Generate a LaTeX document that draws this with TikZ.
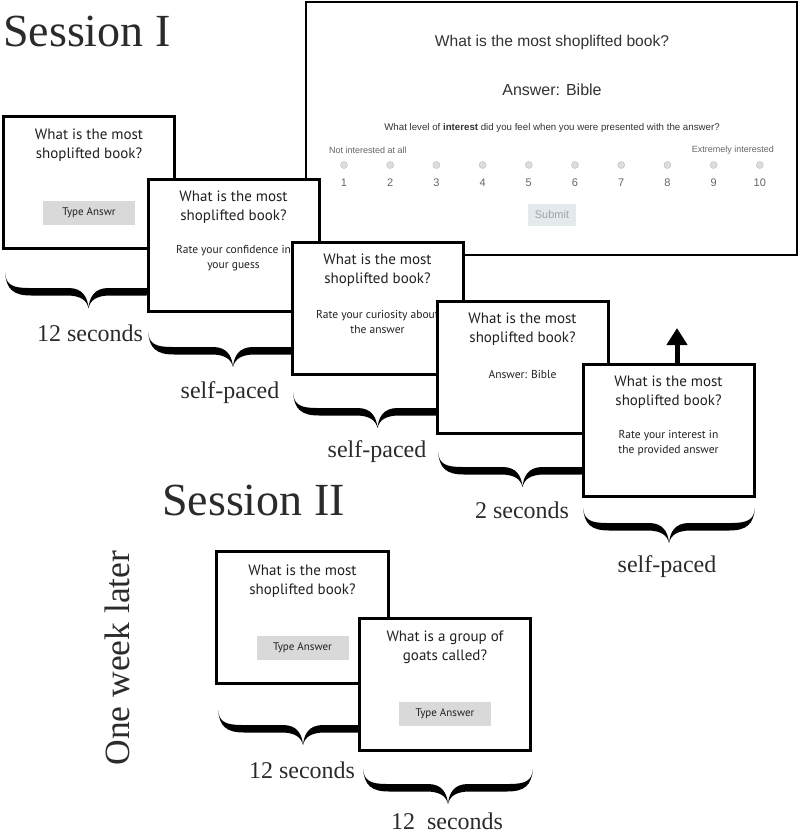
\documentclass[tikz,border=0pt]{standalone}
\usepackage{fontspec}
\setmainfont{Liberation Serif}
\newfontfamily\cardfont{PT Sans}
\newfontfamily\webfont{Liberation Sans}
\usetikzlibrary{arrows.meta,calc}
\definecolor{ink}{HTML}{231F20}
\definecolor{btngray}{HTML}{D9D9D9}
\definecolor{webtxt}{HTML}{333333}
\definecolor{weblight}{HTML}{666666}
\definecolor{radiofill}{HTML}{DDDDDD}
\definecolor{radioline}{HTML}{BBBBBB}
\definecolor{submitbg}{HTML}{E4EAEC}
\definecolor{submittxt}{HTML}{9AA5AA}
\definecolor{labtxt}{HTML}{2B2B2B}
\newcommand\curlybr[3]{%
  \pgfmathsetmacro\bm{(#1+#2)/2}%
  \fill[black] (#1,#3)
    .. controls (#1+1,#3+12) and (#1+8,#3+15) .. (#1+24,#3+15)
    -- (\bm-20,#3+15)
    .. controls (\bm-6,#3+15) and (\bm-1,#3+24) .. (\bm,#3+35)
    .. controls (\bm+1,#3+24) and (\bm+6,#3+15) .. (\bm+20,#3+15)
    -- (#2-24,#3+15)
    .. controls (#2-8,#3+15) and (#2-1,#3+12) .. (#2,#3)
    .. controls (#2-1.5,#3+16) and (#2-8,#3+22.5) .. (#2-26,#3+22.5)
    -- (\bm+22,#3+22.5)
    .. controls (\bm+8,#3+22.5) and (\bm+2,#3+27) .. (\bm,#3+35)
    .. controls (\bm-2,#3+27) and (\bm-8,#3+22.5) .. (\bm-22,#3+22.5)
    -- (#1+26,#3+22.5)
    .. controls (#1+8,#3+22.5) and (#1+1.5,#3+16) .. cycle;}
\begin{document}
\begin{tikzpicture}[x=1pt,y=-1pt,
  card/.style={draw=black, line width=3pt, fill=white, minimum width=171pt, minimum height=132pt, inner sep=0pt},
  qtext/.style={font=\cardfont\fontsize{15}{19}\selectfont, text=ink, align=center, inner sep=0pt},
  subtext/.style={font=\cardfont\fontsize{11.5}{15}\selectfont, text=ink, align=center, inner sep=0pt},
  btn/.style={fill=btngray, minimum width=92pt, minimum height=24pt, inner sep=0pt, font=\cardfont\fontsize{11}{13}\selectfont, text=ink},
  lab/.style={font=\fontsize{24}{28}\selectfont, text=labtxt, inner sep=0pt},
  big/.style={font=\fontsize{46}{50}\selectfont, text=labtxt, inner sep=0pt},
  wt/.style={font=\webfont, text=webtxt, inner sep=0pt},
  radio/.style={circle, fill=radiofill, draw=radioline, line width=0.4pt, minimum size=7pt, inner sep=0pt},
  num/.style={font=\webfont\fontsize{11}{13}\selectfont, text=weblight, inner sep=0pt}]
\useasboundingbox (0,0) rectangle (800,835);
% screenshot of the web question
\node[draw=black, line width=1.5pt, fill=white, minimum width=491pt, minimum height=253pt, inner sep=0pt] (shot) at (551.5,128.5) {};
\node[wt, font=\webfont\fontsize{15.6}{18}\selectfont] (shq) at (552,42) {What is the most shoplifted book?};
\node[wt, font=\webfont\fontsize{16}{19}\selectfont] (sha) at (552,90) {Answer: Bible};
\node[wt, font=\webfont\fontsize{9.7}{11}\selectfont] (shl) at (552,128) {What level of \textbf{interest} did you feel when you were presented with the answer?};
\node[wt, anchor=west, text=weblight, font=\webfont\fontsize{9}{10}\selectfont] (shlo) at (329,150) {Not interested at all};
\node[wt, anchor=east, text=weblight, font=\webfont\fontsize{9}{10}\selectfont] (shhi) at (774,150) {Extremely interested};
\foreach \i in {1,...,10} {
  \node[radio] (r\i) at ({344+46.2*(\i-1)},165) {};
  \node[num] (n\i) at ({344+46.2*(\i-1)},183) {\i};
}
\node[fill=submitbg, minimum width=48pt, minimum height=22pt, inner sep=0pt, font=\webfont\fontsize{11}{13}\selectfont, text=submittxt] (sub) at (552,215) {Submit};
% Session I
\node[big, anchor=base west] (s1) at (3,46) {Session I};
% card 1
\node[card] (b1) at (89,182.5) {};
\node[qtext] (b1q) at ($(b1.north)+(0,30)$) {What is the most\\shoplifted book?};
\node[btn] (b1b) at ($(b1.north)+(0,98)$) {Type Answr};
\curlybr{5}{172}{273}
\node[lab] (l1) at (90,333) {12 seconds};
% card 2
\node[card] (b2) at (233.5,245) {};
\node[qtext] (b2q) at ($(b2.north)+(0,30)$) {What is the most\\shoplifted book?};
\node[subtext] (b2s) at ($(b2.north)+(0,81)$) {Rate your confidence in\\your guess};
\curlybr{148}{318}{332}
\node[lab] (l2) at (230,393) {self-paced};
% card 3
\node[card] (b3) at (377.5,308) {};
\node[qtext] (b3q) at ($(b3.north)+(0,30)$) {What is the most\\shoplifted book?};
\node[subtext] (b3s) at ($(b3.north)+(0,81)$) {Rate your curiosity about\\the answer};
\curlybr{293}{462}{393}
\node[lab] (l3) at (377,452) {self-paced};
% card 4
\node[card] (b4) at (522.5,367) {};
\node[qtext] (b4q) at ($(b4.north)+(0,30)$) {What is the most\\shoplifted book?};
\node[subtext] (b4s) at ($(b4.north)+(0,75)$) {Answer: Bible};
\curlybr{438}{607}{452}
\node[lab] (l4) at (522,510) {2 seconds};
% card 5
\node[card] (b5) at (668.5,430) {};
\node[qtext] (b5q) at ($(b5.north)+(0,30)$) {What is the most\\shoplifted book?};
\node[subtext] (b5s) at ($(b5.north)+(0,81)$) {Rate your interest in\\the provided answer};
\curlybr{583}{755}{508}
\node[lab] (l5) at (667,567) {self-paced};
\coordinate (arrtip) at (677,328);
\draw[line width=5pt, -{Triangle[width=20pt,length=17pt]}] (b5.north -| arrtip) -- (arrtip);
% Session II
\node[big, anchor=base west] (s2) at (162,515) {Session II};
\node[font=\fontsize{35.5}{38}\selectfont, text=labtxt, inner sep=0pt, rotate=90] (wk) at (117,658) {One week later};
% card 6
\node[card, minimum width=172pt] (b6) at (302.5,617.5) {};
\node[qtext] (b6q) at ($(b6.north)+(0,31)$) {What is the most\\shoplifted book?};
\node[btn] (b6b) at ($(b6.north)+(0,97.5)$) {Type Answer};
\curlybr{218}{388}{710}
\node[lab] (l6) at (302,770) {12 seconds};
% card 7
\node[card] (b7) at (445,684.5) {};
\node[qtext] (b7q) at ($(b7.north)+(0,30)$) {What is a group of\\goats called?};
\node[btn] (b7b) at ($(b7.north)+(0,97)$) {Type Answer};
\curlybr{363}{533}{769}
\node[lab] (l7) at (447,821) {12\ \ seconds};
\end{tikzpicture}
\end{document}
